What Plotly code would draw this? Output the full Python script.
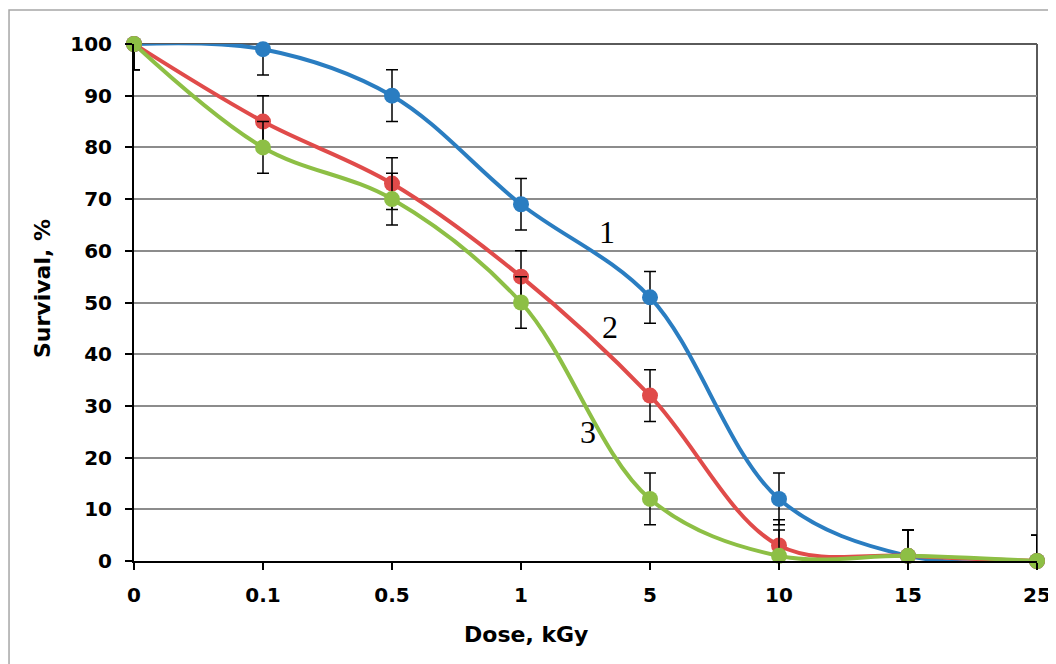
import plotly.graph_objects as go

doses = ["0", "0.1", "0.5", "1", "5", "10", "15", "25"]
survival_1 = [100, 99, 90, 69, 51, 12, 1, 0]
survival_2 = [100, 85, 73, 55, 32, 3, 1, 0]
survival_3 = [100, 80, 70, 50, 12, 1, 1, 0]
error_1 = [5, 5, 5, 5, 5, 5, 5, 5]
error_2 = [5, 5, 5, 5, 5, 5, 5, 5]
error_3 = [5, 5, 5, 5, 5, 5, 5, 5]

series = [
    ("1", survival_1, error_1, "#2A7DC1"),
    ("2", survival_2, error_2, "#E04B4A"),
    ("3", survival_3, error_3, "#8DBF45"),
]

fig = go.Figure()

# smooth lines (clipped to plot area)
for name, vals, err, col in series:
    fig.add_trace(go.Scatter(
        x=doses, y=vals, mode="lines",
        line=dict(color=col, width=4, shape="spline", smoothing=1.0),
        cliponaxis=True, showlegend=False, hoverinfo="skip"))

# markers with error bars (error bars limited to the 0..100 axis range)
for name, vals, err, col in series:
    plus = [min(e, 100 - v) for v, e in zip(vals, err)]
    minus = [min(e, v) for v, e in zip(vals, err)]
    fig.add_trace(go.Scatter(
        x=doses, y=vals, mode="markers", name=name,
        marker=dict(color=col, size=16),
        error_y=dict(type="data", symmetric=False, array=plus, arrayminus=minus,
                     color="black", thickness=1.5, width=6),
        cliponaxis=False, showlegend=False))

tick_font = dict(family="DejaVu Sans", size=20, color="black", weight="bold")

fig.update_layout(
    width=1056, height=664,
    margin=dict(l=126, r=27, t=36, b=111),
    paper_bgcolor="white", plot_bgcolor="white",
    font=dict(family="DejaVu Sans", color="black"),
    xaxis=dict(type="category", range=[0, 7], showgrid=False,
               showline=True, linecolor="black", linewidth=2,
               ticks="outside", ticklen=7, tickcolor="black", tickwidth=1.5,
               tickfont=tick_font, ticklabelstandoff=8, zeroline=False),
    yaxis=dict(range=[0, 100], dtick=10, showgrid=True, gridcolor="#8C8C8C", gridwidth=1.5,
               showline=True, linecolor="black", linewidth=2,
               ticks="outside", ticklen=7, tickcolor="black", tickwidth=1.5,
               tickfont=tick_font, ticklabelstandoff=9, zeroline=False),
    shapes=[
        # plot area border (top and right)
        dict(type="line", xref="paper", yref="paper", x0=0, x1=1, y0=1, y1=1,
             line=dict(color="#5A5A5A", width=2), layer="between"),
        dict(type="line", xref="paper", yref="paper", x0=1, x1=1, y0=0, y1=1,
             line=dict(color="#5A5A5A", width=2), layer="between"),
        # outer chart frame
        dict(type="rect", xref="paper", yref="paper", x0=-0.1384, x1=1.1, y0=-0.3, y1=1.0658,
             line=dict(color="#A6A6A6", width=1.5), layer="below"),
    ],
    annotations=[
        dict(text="<b>Survival, %</b>", xref="paper", yref="paper", x=-0.1019, y=0.528,
             xanchor="center", yanchor="middle",
             textangle=-90, showarrow=False, font=dict(family="DejaVu Sans", size=22, color="black")),
        dict(text="<b>Dose, kGy</b>", xref="paper", yref="paper", x=0.434, y=-0.143,
             xanchor="center", yanchor="middle",
             showarrow=False, font=dict(family="DejaVu Sans", size=22, color="black")),
        dict(text="1", xref="x", yref="y", x=3.67, y=63.6, showarrow=False,
             font=dict(family="Liberation Serif", size=32, color="black")),
        dict(text="2", xref="x", yref="y", x=3.69, y=45.3, showarrow=False,
             font=dict(family="Liberation Serif", size=32, color="black")),
        dict(text="3", xref="x", yref="y", x=3.52, y=25.0, showarrow=False,
             font=dict(family="Liberation Serif", size=32, color="black")),
    ],
)

fig.write_html("out.html")
